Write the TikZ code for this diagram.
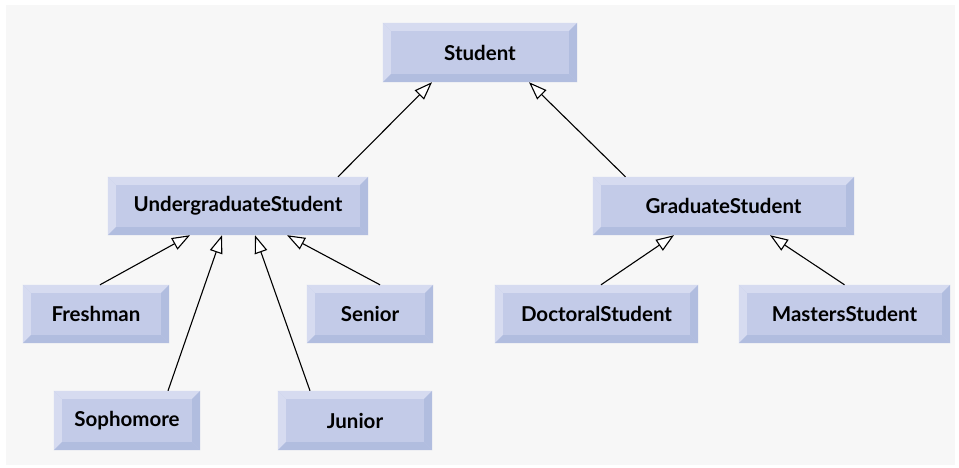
\documentclass[tikz,border=0pt]{standalone}
\usepackage{fontspec}
\setmainfont{Lato}
\usetikzlibrary{arrows.meta}

\definecolor{panelgray}{RGB}{247,247,247}
\definecolor{facecol}{RGB}{195,203,232}
\definecolor{bevlight}{RGB}{214,219,240}
\definecolor{bevdark}{RGB}{177,189,223}

\tikzset{
  classbox/.style={fill=facecol, inner sep=0pt, font=\fontsize{20.5}{24}\selectfont\bfseries},
  inherit/.style={-{Triangle[length=18pt,width=13pt,fill=white]}, line width=1.1pt}
}

% bevelled edges round a class box
\newcommand\bevelbox[1]{%
  \fill[bevlight] (#1.north west) -- (#1.north east) -- ([shift={(-8pt,-8pt)}]#1.north east) -- ([shift={(8pt,-8pt)}]#1.north west) -- cycle;
  \fill[bevlight] (#1.north west) -- ([shift={(8pt,-8pt)}]#1.north west) -- ([shift={(8pt,8pt)}]#1.south west) -- (#1.south west) -- cycle;
  \fill[bevdark] (#1.south west) -- ([shift={(8pt,8pt)}]#1.south west) -- ([shift={(-8pt,8pt)}]#1.south east) -- (#1.south east) -- cycle;
  \fill[bevdark] (#1.north east) -- (#1.south east) -- ([shift={(-8pt,8pt)}]#1.south east) -- ([shift={(-8pt,-8pt)}]#1.north east) -- cycle;
}

\begin{document}
\begin{tikzpicture}[x=1pt,y=-1pt]
    % Background panel
    \useasboundingbox (0,0) rectangle (959,467);
    \fill[panelgray] (6,5) rectangle (955,465);

    % Draw class boxes
    \foreach \n/\x/\y/\w/\h/\t in {stu/480/52.5/194/59/Student, ug/238/206/260/58/UndergraduateStudent, grad/723.5/206/261/58/GraduateStudent, fresh/96/314/146/58/Freshman, senior/370/314/126/58/Senior, doc/596.5/314/203/58/DoctoralStudent, mast/844.5/314/211/58/MastersStudent, soph/127/420.5/146/59/Sophomore, jun/355/420.5/154/59/Junior} {
      \node[classbox, minimum width=\w pt, minimum height=\h pt] (\n) at (\x,\y) {\t};
      \bevelbox{\n}
    }

    % Draw inheritance arrows from subclass to superclass
    \foreach \c/\cs/\p/\ps in {ug/100/stu/-48, grad/-98/stu/49, fresh/4/ug/-48, soph/41/ug/-16, jun/-45/ug/17, senior/10/ug/49, doc/4.5/grad/-49.5, mast/0/grad/46.5} {
      \draw[inherit] ([xshift=\cs pt]\c.north) -- ([xshift=\ps pt]\p.south);
    }
\end{tikzpicture}
\end{document}
